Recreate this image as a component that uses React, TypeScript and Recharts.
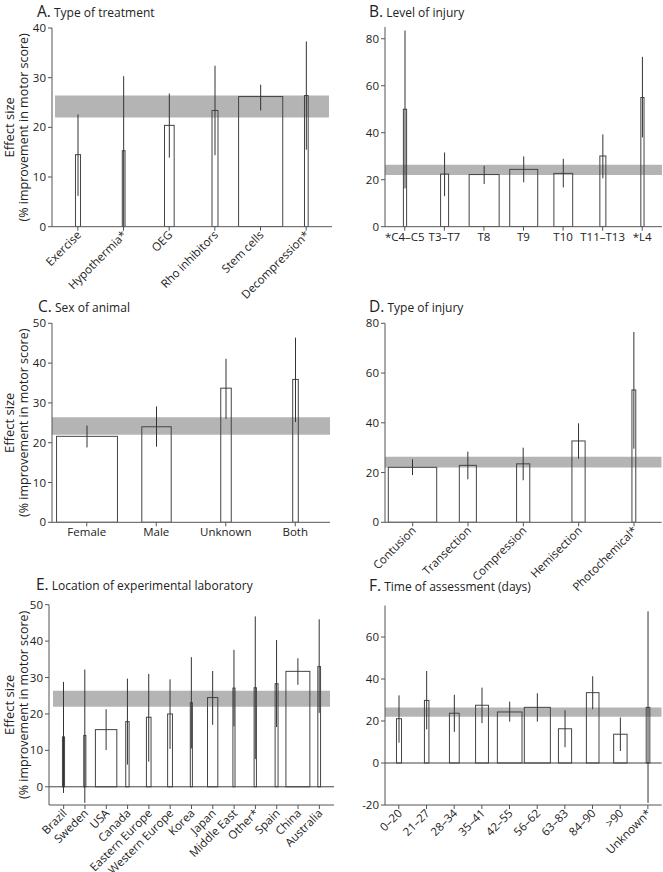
import React from "react";
import {
  BarChart,
  Bar,
  XAxis,
  YAxis,
  ErrorBar,
  ReferenceArea,
  ReferenceLine,
} from "recharts";

// pooled estimate band (all panels)
const BAND_LOW = 22;
const BAND_HIGH = 26.4;

// A. Type of treatment
const treatmentCats = ["Exercise", "Hypothermia*", "OEG", "Rho inhibitors", "Stem cells", "Decompression*"];
const treatmentVals = [14.5, 15.3, 20.4, 23.4, 26.2, 26.4];
const treatmentLo = [6.2, 0, 13.9, 14.4, 23.4, 15.5];
const treatmentHi = [22.6, 30.3, 26.8, 32.4, 28.6, 37.3];
const treatmentN = [0.11, 0.06, 0.21, 0.13, 0.96, 0.08];

// B. Level of injury
const levelCats = ["*C4–C5", "T3–T7", "T8", "T9", "T10", "T11–T13", "*L4"];
const levelVals = [50, 22.4, 22.2, 24.4, 22.7, 30.1, 55];
const levelLo = [16.3, 13, 18.2, 18.9, 16.7, 20.6, 38];
const levelHi = [83.5, 31.6, 25.9, 29.9, 28.9, 39.3, 72.3];
const levelN = [0.08, 0.2, 0.75, 0.7, 0.47, 0.15, 0.08];

// C. Sex of animal
const sexCats = ["Female", "Male", "Unknown", "Both"];
const sexVals = [21.6, 24, 33.7, 35.9];
const sexLo = [18.8, 19, 26, 25.2];
const sexHi = [24.3, 29.1, 41.1, 46.4];
const sexN = [0.87, 0.42, 0.15, 0.08];

// D. Type of injury
const injuryCats = ["Contusion", "Transection", "Compression", "Hemisection", "Photochemical*"];
const injuryVals = [22.1, 22.9, 23.5, 32.7, 53.2];
const injuryLo = [19, 17.3, 16.9, 25.6, 29.6];
const injuryHi = [25.3, 28.4, 30, 39.8, 76.5];
const injuryN = [0.88, 0.31, 0.24, 0.24, 0.07];

// E. Location of experimental laboratory
const labCats = ["Brazil", "Sweden", "USA", "Canada", "Eastern Europe", "Western Europe", "Korea", "Japan", "Middle East", "Other*", "Spain", "China", "Australia"];
const labVals = [13.7, 14.1, 15.7, 17.9, 19.1, 20, 23.1, 24.5, 27.1, 27.2, 28.3, 31.7, 33];
const labLo = [-1.7, -4.4, 10.1, 6.1, 6.9, 10.4, 10.5, 17, 16.6, 7.6, 16.4, 28, 20.3];
const labHi = [28.8, 32.2, 21.3, 29.7, 31, 29.5, 35.6, 31.8, 37.6, 46.8, 40.3, 35.3, 46];
const labN = [0.1, 0.1, 1.02, 0.16, 0.22, 0.23, 0.1, 0.49, 0.1, 0.11, 0.14, 1.14, 0.13];

// F. Time of assessment (days)
const timeCats = ["0–20", "21–27", "28–34", "35–41", "42–55", "56–62", "63–83", "84–90", ">90", "Unknown*"];
const timeVals = [21.1, 29.8, 23.7, 27.5, 24.3, 26.5, 16.3, 33.5, 13.7, 26.5];
const timeLo = [9.7, 16, 14.8, 19, 19.7, 19.7, 7.5, 25.6, 5.7, -19];
const timeHi = [32.2, 43.8, 32.5, 35.9, 29.2, 33.2, 25.1, 41.3, 21.7, 72.2];
const timeN = [0.18, 0.16, 0.35, 0.46, 0.88, 0.93, 0.47, 0.45, 0.48, 0.13];

const FONT = "'Open Sans', 'Noto Sans', sans-serif";
const AXIS = "#555";
const TEXT = "#222";
const TICK_FS = 11.5;

function build(cats: string[], vals: number[], lo: number[], hi: number[], n: number[]) {
  return cats.map((c, i) => ({
    name: c,
    value: vals[i],
    err: [vals[i] - lo[i], hi[i] - vals[i]],
    w: n[i],
  }));
}

const VarBar = (props: any) => {
  const { x, y, width, height, payload } = props;
  const w = Math.max(width * payload.w, 2);
  return (
    <rect
      x={x + (width - w) / 2}
      y={y}
      width={w}
      height={height}
      fill="none"
      stroke="#444"
      strokeWidth={1}
    />
  );
};

const RotTick = (props: any) => {
  const { x, y, payload } = props;
  return (
    <text
      x={x + 4}
      y={y + 3}
      transform={`rotate(-45 ${x + 4} ${y + 3})`}
      textAnchor="end"
      fontSize={TICK_FS}
      fill={TEXT}
      fontFamily={FONT}
    >
      {payload.value}
    </text>
  );
};

type PanelProps = {
  letter: string;
  title: string;
  left: number;
  top: number;
  width: number;
  height: number;
  yw: number;
  mTop: number;
  mRight: number;
  xh: number;
  pad?: number;
  domain: [number, number];
  ticks: number[];
  data: any[];
  rotate?: boolean;
  ylabel?: boolean;
  zero?: boolean;
  titleTop: number;
  titleLeft: number;
};

function Panel(p: PanelProps) {
  const plotTop = p.mTop;
  const plotBottom = p.height - p.xh;
  const midY = (plotTop + plotBottom) / 2;
  return (
    <div style={{ position: "absolute", left: p.left, top: p.top, width: p.width, height: p.height }}>
      <BarChart
        width={p.width}
        height={p.height}
        data={p.data}
        margin={{ top: p.mTop, right: p.mRight, bottom: 0, left: 0 }}
        barCategoryGap={0}
      >
        <ReferenceArea y1={BAND_LOW} y2={BAND_HIGH} fill="#b4b4b4" fillOpacity={1} stroke="none" ifOverflow="hidden" />
        {p.zero && <ReferenceLine y={0} stroke="#444" strokeWidth={1} />}
        <XAxis
          dataKey="name"
          height={p.xh}
          interval={0}
          tickSize={4}
          tickMargin={2}
          stroke={AXIS}
          padding={{ left: p.pad || 0, right: p.pad || 0 }}
          tick={p.rotate ? <RotTick /> : { fontSize: TICK_FS, fill: TEXT, fontFamily: FONT }}
        />
        <YAxis
          width={p.yw}
          domain={p.domain}
          ticks={p.ticks}
          interval={0}
          allowDataOverflow
          tickSize={4}
          tickMargin={2}
          stroke={AXIS}
          tick={{ fontSize: TICK_FS, fill: TEXT, fontFamily: FONT }}
        />
        <Bar dataKey="value" shape={<VarBar />} isAnimationActive={false}>
          <ErrorBar dataKey="err" width={0} stroke="#333" strokeWidth={1} direction="y" />
        </Bar>
      </BarChart>
      <div
        style={{
          position: "absolute",
          left: p.titleLeft,
          top: p.titleTop,
          fontFamily: FONT,
          color: TEXT,
          whiteSpace: "nowrap",
          lineHeight: "18px",
        }}
      >
        <span style={{ fontSize: 15.5 }}>{p.letter}</span>
        <span style={{ fontSize: 12 }}> {p.title}</span>
      </div>
      {p.ylabel && (
        <svg style={{ position: "absolute", left: 0, top: 0 }} width={40} height={p.height}>
          <text
            transform={`translate(9 ${midY}) rotate(-90)`}
            textAnchor="middle"
            dominantBaseline="central"
            fontSize={13}
            fill={TEXT}
            fontFamily={FONT}
          >
            Effect size
          </text>
          <text
            transform={`translate(23 ${midY}) rotate(-90)`}
            textAnchor="middle"
            dominantBaseline="central"
            fontSize={12.5}
            fill={TEXT}
            fontFamily={FONT}
          >
            (% improvement in motor score)
          </text>
        </svg>
      )}
    </div>
  );
}

export default function App() {
  return (
    <div style={{ position: "relative", width: 663, height: 872, background: "#fff", overflow: "hidden" }}>
      <style>{`body{margin:0} .recharts-surface{overflow:visible}`}</style>
      <Panel
        letter="A." title="Type of treatment"
        left={0} top={0} width={340} height={290}
        yw={52} mTop={28} mRight={8} xh={63.3} pad={3}
        domain={[0, 40]} ticks={[0, 10, 20, 30, 40]}
        data={build(treatmentCats, treatmentVals, treatmentLo, treatmentHi, treatmentN)}
        rotate ylabel titleTop={2} titleLeft={37}
      />
      <Panel
        letter="B." title="Level of injury"
        left={330} top={0} width={333} height={290}
        yw={55} mTop={27} mRight={1} xh={63.3}
        domain={[0, 85]} ticks={[0, 20, 40, 60, 80]}
        data={build(levelCats, levelVals, levelLo, levelHi, levelN)}
        titleTop={2} titleLeft={39}
      />
      <Panel
        letter="C." title="Sex of animal"
        left={0} top={280} width={340} height={300}
        yw={52} mTop={43.3} mRight={10} xh={57.7}
        domain={[0, 50]} ticks={[0, 10, 20, 30, 40, 50]}
        data={build(sexCats, sexVals, sexLo, sexHi, sexN)}
        ylabel titleTop={17} titleLeft={38}
      />
      <Panel
        letter="D." title="Type of injury"
        left={330} top={280} width={333} height={300}
        yw={55} mTop={43.3} mRight={1.3} xh={57.7}
        domain={[0, 80]} ticks={[0, 20, 40, 60, 80]}
        data={build(injuryCats, injuryVals, injuryLo, injuryHi, injuryN)}
        rotate titleTop={17} titleLeft={39}
      />
      <Panel
        letter="E." title="Location of experimental laboratory"
        left={0} top={570} width={340} height={302}
        yw={49} mTop={34.7} mRight={6} xh={67} pad={4}
        domain={[-5, 50]} ticks={[0, 10, 20, 30, 40, 50]}
        data={build(labCats, labVals, labLo, labHi, labN)}
        rotate ylabel zero titleTop={5} titleLeft={36}
      />
      <Panel
        letter="F." title="Time of assessment (days)"
        left={330} top={570} width={333} height={302}
        yw={55} mTop={35.5} mRight={1.3} xh={67}
        domain={[-20, 75]} ticks={[-20, 0, 20, 40, 60]}
        data={build(timeCats, timeVals, timeLo, timeHi, timeN)}
        rotate zero titleTop={6} titleLeft={39}
      />
    </div>
  );
}
